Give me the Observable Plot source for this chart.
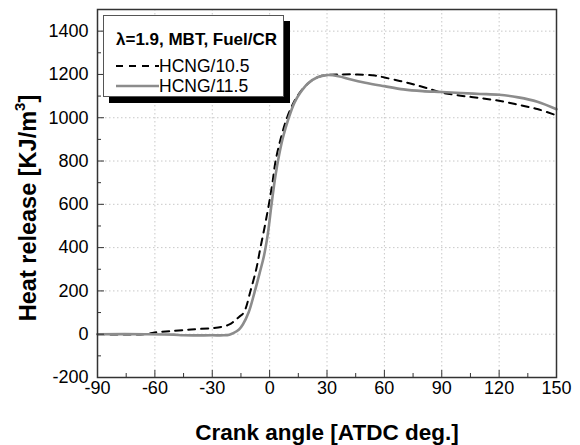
<!DOCTYPE html>
<html>
<head>
<meta charset="utf-8">
<script src="https://cdn.jsdelivr.net/npm/d3@7"></script>
<script src="https://cdn.jsdelivr.net/npm/@observablehq/plot@0.6"></script>
<style>
  html, body { margin: 0; padding: 0; background: #fff; }
  #wrap { position: relative; width: 580px; height: 445px; font-family: "Liberation Sans", Arial, sans-serif; }
  #legend {
    position: absolute; left: 103px; top: 15px; width: 181px; height: 82px;
    background: #fff; border: 1px solid #555; box-shadow: 6px 6px 0 #000;
    box-sizing: border-box;
  }
  #legend .title { position: absolute; left: 12px; top: 15px; font-weight: bold; font-size: 17px; line-height: 18px; white-space: nowrap; }
  #legend .row { position: absolute; left: 12px; font-size: 17.5px; line-height: 20px; white-space: nowrap; display: flex; align-items: center; }
  #legend svg { display: block; }
</style>
</head>
<body>
<div id="wrap"></div>
<script>
// ---- data ----
const xTicks = [-90, -60, -30, 0, 30, 60, 90, 120, 150];
const xMinorTicks = [-75, -45, -15, 15, 45, 75, 105, 135];
const yTicks = [-200, 0, 200, 400, 600, 800, 1000, 1200, 1400];
const yMinorTicks = [-100, 100, 300, 500, 700, 900, 1100, 1300];

const seriesNames = ["HCNG/10.5", "HCNG/11.5"];
const legendTitle = "λ=1.9, MBT, Fuel/CR";

// HCNG/10.5 (dashed black)
const angle105 = [-90, -65, -59, -52, -41, -29, -24, -21, -19, -16, -13.5, -10, -7, -4.8, -2.5, -0.4, 1.5, 3.1, 6, 9.1, 12, 14.5, 18, 22, 26, 30, 38, 46, 55, 60, 68, 75, 82, 90, 100, 110, 120, 130, 140, 150];
const heat105  = [0, 0, 9, 14, 22, 29, 36, 45, 57, 80, 100, 200, 300, 400, 500, 600, 700, 800, 910, 1000, 1060, 1100, 1140, 1172, 1190, 1197, 1200, 1200, 1195, 1186, 1170, 1155, 1137, 1116, 1102, 1091, 1078, 1060, 1040, 1011];

// HCNG/11.5 (solid gray)
const angle115 = [-90, -65, -50, -45, -30, -24, -21, -19, -16, -14, -11, -8, -5, -3, -1, 1, 3, 5, 7, 10, 13, 16, 20, 25, 30, 36, 42, 50, 60, 70, 80, 90, 100, 110, 120, 130, 140, 150];
const heat115  = [0, 0, -2, -5, -5, -5, -2, 5, 22, 45, 100, 190, 290, 360, 460, 600, 730, 830, 910, 1000, 1070, 1115, 1158, 1187, 1197, 1192, 1178, 1162, 1146, 1131, 1123, 1119, 1114, 1110, 1106, 1094, 1074, 1039];

const rows105 = angle105.map((a, i) => ({angle: a, heat: heat105[i]}));
const rows115 = angle115.map((a, i) => ({angle: a, heat: heat115[i]}));

const font = '"Liberation Sans", Arial, sans-serif';
const fmt = d => String(d);

const chart = Plot.plot({
  width: 580,
  height: 445,
  marginLeft: 97,
  marginRight: 24,
  marginTop: 9,
  marginBottom: 68,
  style: {fontFamily: font, fontSize: "18px", color: "#000", background: "#fff", overflow: "visible"},
  x: {domain: [-90, 150]},
  y: {domain: [-200, 1500]},
  marks: [
    Plot.gridX(xTicks.slice(1, -1), {stroke: "#c8c8c8", strokeOpacity: 1, strokeDasharray: "1.5,2.5"}),
    Plot.gridY(yTicks.slice(1), {stroke: "#c8c8c8", strokeOpacity: 1, strokeDasharray: "1.5,2.5"}),
    Plot.line(rows105, {x: "angle", y: "heat", stroke: "#000", strokeWidth: 2, strokeDasharray: "7,6", curve: "catmull-rom"}),
    Plot.line(rows115, {x: "angle", y: "heat", stroke: "#8c8c8c", strokeWidth: 2.6, curve: "catmull-rom"}),
    Plot.axisX(xMinorTicks, {tickSize: -4, tickFormat: () => "", label: null, stroke: "#333"}),
    Plot.axisX(xTicks, {tickSize: -7, tickPadding: 11, tickFormat: fmt, label: null, stroke: "#333", fontSize: 18}),
    Plot.axisY(yMinorTicks, {tickSize: -4, tickFormat: () => "", label: null, stroke: "#333"}),
    Plot.axisY(yTicks, {tickSize: -7, tickPadding: 16, tickFormat: fmt, label: null, stroke: "#333", fontSize: 18}),
    Plot.frame({stroke: "#333", strokeWidth: 1.5})
  ]
});

const wrap = document.getElementById("wrap");
wrap.appendChild(chart);

const svg = d3.select(chart);

// axis titles
svg.append("text")
  .attr("x", 327).attr("y", 440)
  .attr("text-anchor", "middle")
  .attr("font-family", font).attr("font-weight", "bold").attr("font-size", 22.5)
  .text("Crank angle [ATDC deg.]");

const yl = svg.append("text")
  .attr("transform", "translate(36,208) rotate(-90)")
  .attr("text-anchor", "middle")
  .attr("font-family", font).attr("font-weight", "bold").attr("font-size", 23.5);
yl.append("tspan").text("Heat release [KJ/m");
yl.append("tspan").attr("font-size", 15).attr("dy", -11).text("3");
yl.append("tspan").attr("dy", 11).text("]");

// legend
const legend = document.createElement("div");
legend.id = "legend";
legend.innerHTML = `
  <div class="title">${legendTitle}</div>
  <div class="row" style="top:40px"><svg width="43" height="6"><line x1="0" x2="43" y1="3" y2="3" stroke="#000" stroke-width="2" stroke-dasharray="7,6"/></svg><span>${seriesNames[0]}</span></div>
  <div class="row" style="top:60px"><svg width="43" height="6"><line x1="0" x2="43" y1="3" y2="3" stroke="#8c8c8c" stroke-width="2.6"/></svg><span>${seriesNames[1]}</span></div>
`;
wrap.appendChild(legend);
</script>
</body>
</html>
